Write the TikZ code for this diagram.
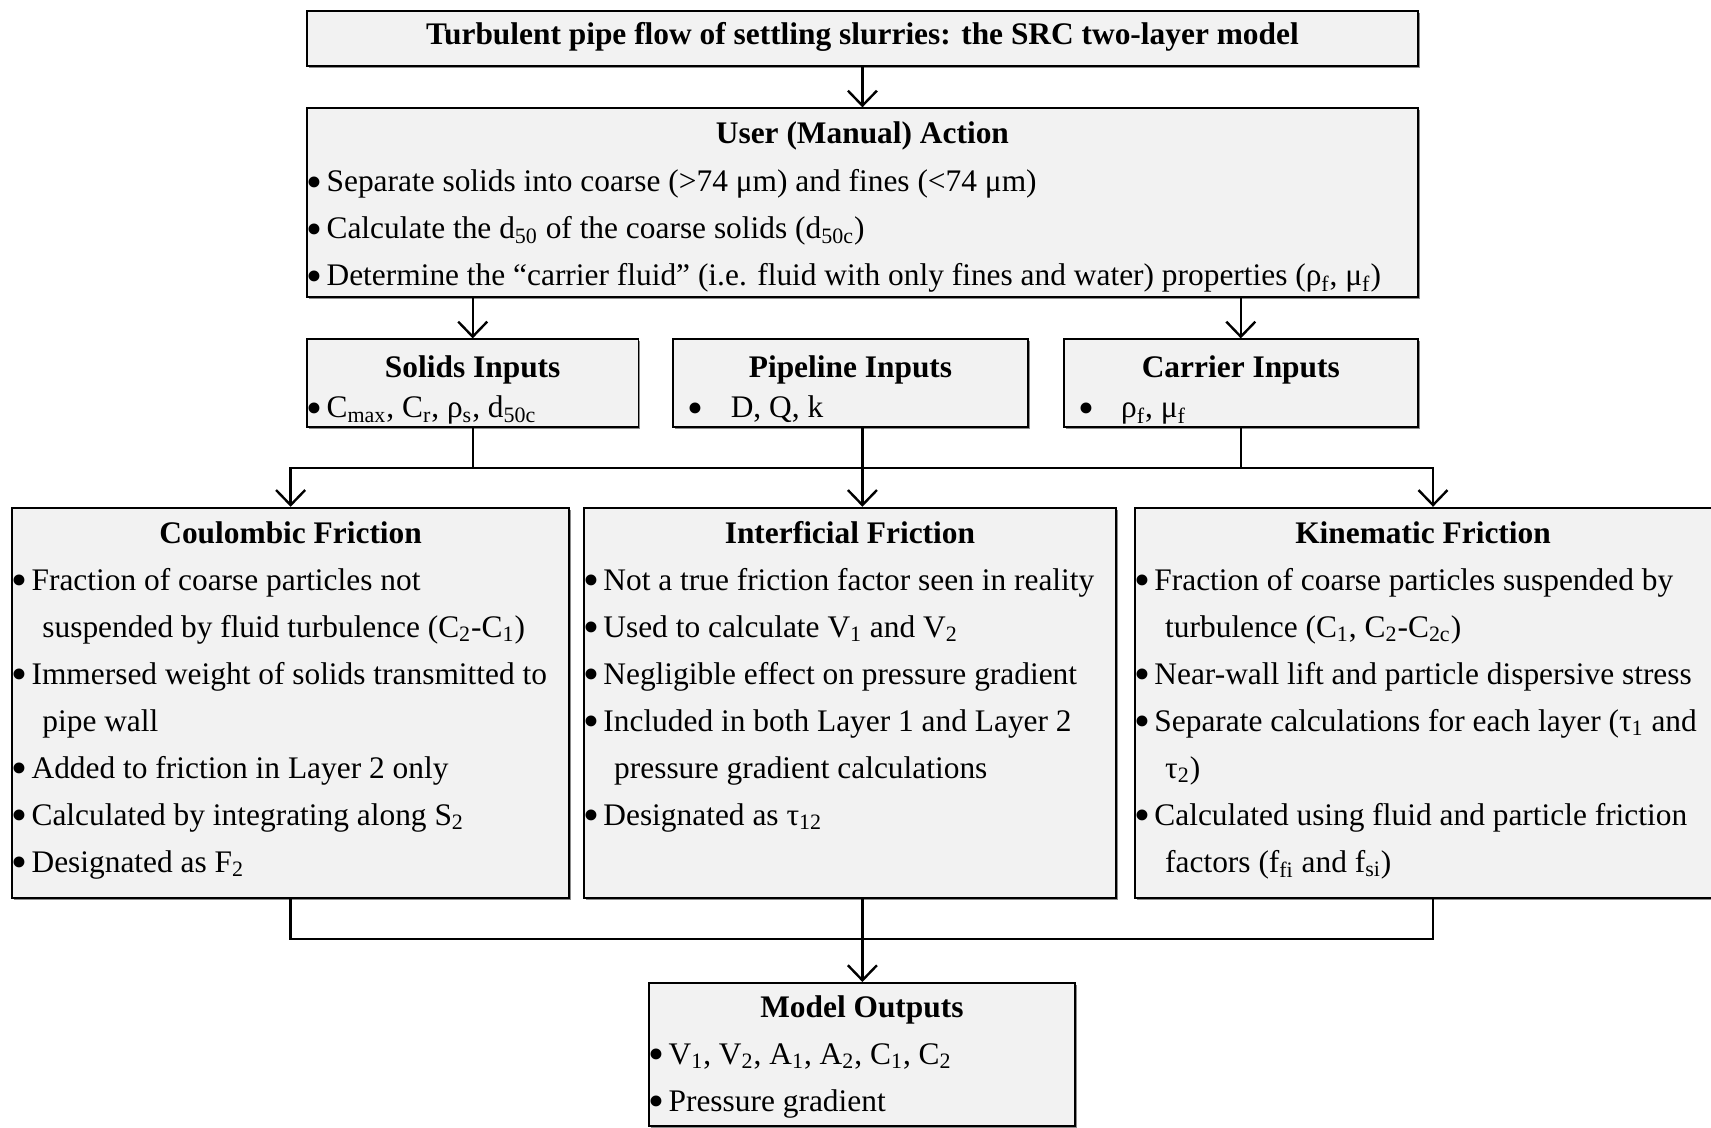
\documentclass[tikz,border=0pt]{standalone}
\usepackage{fontspec}
\usepackage{graphicx}
\setmainfont{Liberation Serif}
\usetikzlibrary{arrows.meta,shadows}
\definecolor{panelgray}{HTML}{F2F2F2}
\newcommand{\bigdot}{\raisebox{-2.8pt}{\scalebox{1.45}{\textbullet}}}
\newcommand{\bul}{\makebox[9.6pt][l]{\hspace*{-0.3pt}\bigdot}}
\newcommand{\ind}{\hspace*{15pt}}
\newcommand{\sbul}{\hspace*{7.5pt}\makebox[21.5pt][l]{\bigdot}}

\begin{document}
\begin{tikzpicture}[
		panel/.style={draw, fill=panelgray, line width=0.9pt, anchor=north west, inner sep=0,
			drop shadow={shadow xshift=0.9pt, shadow yshift=-0.9pt, fill=black!45, opacity=1}},
		heading/.style={anchor=base, inner sep=0, font=\fontsize{15.7}{23.5}\selectfont\bfseries},
		bullets/.style={anchor=base west, inner sep=0, font=\fontsize{15.7}{23.5}\selectfont},
		link/.style={line width=1.2pt, line cap=rect},
		feed/.style={line width=1.2pt, -{Straight Barb[length=7.5pt,width=14.5pt]}},
	]
	\useasboundingbox (0,0) rectangle (855.5pt,-564pt);

	% title and user action
	\node[panel, minimum width=555.5pt, minimum height=27.5pt] (title) at (153pt,-5pt) {};
	\node[heading] (titletxt) at ([yshift=-17.5pt]title.north) {Turbulent pipe flow of settling slurries: the SRC two-layer model};

	\node[panel, minimum width=555.5pt, minimum height=94.3pt] (user) at (153pt,-53.7pt) {};
	\node[heading] (usertxt) at ([yshift=-18pt]user.north) {User (Manual) Action};
	\node[bullets] (userlist) at ([xshift=0.5pt,yshift=-42.2pt]user.north west) {\parbox[t]{550pt}{%
		\bul Separate solids into coarse (>74 μm) and fines (<74 μm)\\
		\bul Calculate the d\textsubscript{50} of the coarse solids (d\textsubscript{50c})\\
		\bul Determine the “carrier fluid” (i.e. fluid with only fines and water) properties (ρ\textsubscript{f}, μ\textsubscript{f})}};

	% inputs
	\node[panel, minimum width=165.8pt, minimum height=43.8pt] (solids) at (153pt,-169.2pt) {};
	\node[heading] (solidstxt) at ([yshift=-19.7pt]solids.north) {Solids Inputs};
	\node[bullets] (solidslist) at ([xshift=0.5pt,yshift=-39.7pt]solids.north west) {\bul C\textsubscript{max}, C\textsubscript{r}, ρ\textsubscript{s}, d\textsubscript{50c}};

	\node[panel, minimum width=177.2pt, minimum height=43.8pt] (pipe) at (336.2pt,-169.2pt) {};
	\node[heading] (pipetxt) at ([yshift=-19.7pt]pipe.north) {Pipeline Inputs};
	\node[bullets] (pipelist) at ([yshift=-39.7pt]pipe.north west) {\sbul D, Q, k};

	\node[panel, minimum width=177.1pt, minimum height=43.8pt] (carrier) at (531.4pt,-169.2pt) {};
	\node[heading] (carriertxt) at ([yshift=-19.7pt]carrier.north) {Carrier Inputs};
	\node[bullets] (carrierlist) at ([yshift=-39.7pt]carrier.north west) {\sbul ρ\textsubscript{f}, μ\textsubscript{f}};

	% friction terms
	\node[panel, minimum width=278.7pt, minimum height=195pt] (coulomb) at (5.5pt,-253.4pt) {};
	\node[heading] (coulombtxt) at ([yshift=-18.3pt]coulomb.north) {Coulombic Friction};
	\node[bullets] (coulomblist) at ([xshift=0.5pt,yshift=-41.6pt]coulomb.north west) {\parbox[t]{275pt}{%
		\bul Fraction of coarse particles not\\
		\ind suspended by fluid turbulence (C\textsubscript{2}-C\textsubscript{1})\\
		\bul Immersed weight of solids transmitted to\\
		\ind pipe wall\\
		\bul Added to friction in Layer 2 only\\
		\bul Calculated by integrating along S\textsubscript{2}\\
		\bul Designated as F\textsubscript{2}}};

	\node[panel, minimum width=266.2pt, minimum height=195pt] (interf) at (291.4pt,-253.4pt) {};
	\node[heading] (interftxt) at ([yshift=-18.3pt]interf.north) {Interficial Friction};
	\node[bullets] (interflist) at ([xshift=0.5pt,yshift=-41.6pt]interf.north west) {\parbox[t]{262pt}{%
		\bul Not a true friction factor seen in reality\\
		\bul Used to calculate V\textsubscript{1} and V\textsubscript{2}\\
		\bul Negligible effect on pressure gradient\\
		\bul Included in both Layer 1 and Layer 2\\
		\ind pressure gradient calculations\\
		\bul Designated as τ\textsubscript{12}}};

	\node[panel, minimum width=303.1pt, minimum height=195pt] (kinem) at (566.9pt,-253.4pt) {};
	\node[heading] (kinemtxt) at ([xshift=144.6pt,yshift=-18.3pt]kinem.north west) {Kinematic Friction};
	\node[bullets] (kinemlist) at ([xshift=0.5pt,yshift=-41.6pt]kinem.north west) {\parbox[t]{285pt}{%
		\bul Fraction of coarse particles suspended by\\
		\ind turbulence (C\textsubscript{1}, C\textsubscript{2}-C\textsubscript{2c})\\
		\bul Near-wall lift and particle dispersive stress\\
		\bul Separate calculations for each layer (τ\textsubscript{1} and\\
		\ind τ\textsubscript{2})\\
		\bul Calculated using fluid and particle friction\\
		\ind factors (f\textsubscript{fi} and f\textsubscript{si})}};

	% outputs
	\node[panel, minimum width=213pt, minimum height=71.5pt] (outputs) at (324pt,-491pt) {};
	\node[heading] (outputstxt) at ([yshift=-17.5pt]outputs.north) {Model Outputs};
	\node[bullets] (outputslist) at ([xshift=0.5pt,yshift=-41pt]outputs.north west) {\parbox[t]{210pt}{%
		\bul V\textsubscript{1}, V\textsubscript{2}, A\textsubscript{1}, A\textsubscript{2}, C\textsubscript{1}, C\textsubscript{2}\\
		\bul Pressure gradient}};

	% connectors
	\coordinate (busin) at (0,-234pt);
	\coordinate (busout) at (0,-469.5pt);
	\coordinate (kinin) at ([xshift=149.6pt]kinem.north west);
	\coordinate (kinout) at ([xshift=149.6pt]kinem.south west);

	\draw[feed] (title) -- (user);
	\draw[feed] (user.south -| solids.north) -- (solids.north);
	\draw[feed] (user.south -| carrier.north) -- (carrier.north);

	\draw[link] (solids.south) -- (solids.south |- busin);
	\draw[link] (pipe.south -| title.south) -- (title.south |- busin);
	\draw[link] (carrier.south) -- (carrier.south |- busin);
	\draw[link] (coulomb.north |- busin) -- (kinin |- busin);
	\draw[feed] (coulomb.north |- busin) -- (coulomb.north);
	\draw[feed] (title.south |- busin) -- (title.south |- interf.north);
	\draw[feed] (kinin |- busin) -- (kinin);

	\draw[link] (coulomb.south) -- (coulomb.south |- busout) -- (kinout |- busout) -- (kinout);
	\draw[feed] (interf.south -| title.south) -- (outputs.north -| title.south);
\end{tikzpicture}
\end{document}
